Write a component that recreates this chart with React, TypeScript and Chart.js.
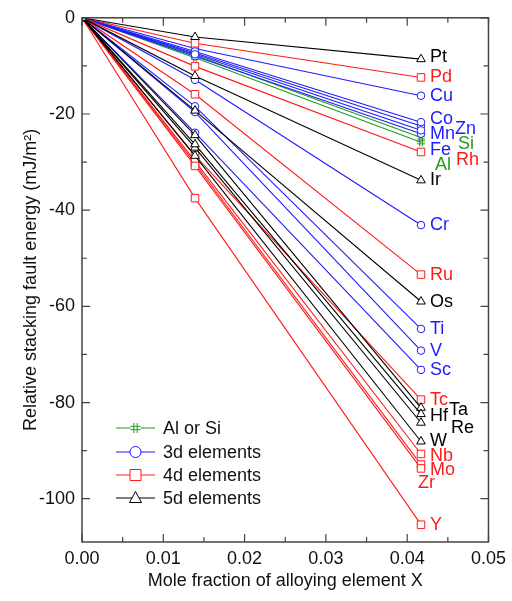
import React, { useEffect, useRef } from 'react';
import { Chart, registerables } from 'chart.js';
Chart.register(...registerables);

// ---- data ----
const xFractions = [0, 0.0139, 0.0417];
const originEnergy = 0;

const spNames = ['Al', 'Si'];
const spMid = [-8.3, -7.8];
const spEnd = [-25.9, -24.9];

const d3Names = ['Sc', 'Ti', 'V', 'Cr', 'Mn', 'Fe', 'Co', 'Cu', 'Zn'];
const d3Mid = [-23.9, -18.4, -19.6, -12.9, -7.6, -8.0, -7.0, -6.4, -7.3];
const d3End = [-73.2, -64.7, -69.2, -43.1, -23.4, -24.1, -21.7, -16.2, -22.5];

const d4Names = ['Y', 'Zr', 'Nb', 'Mo', 'Tc', 'Ru', 'Rh', 'Pd'];
const d4Mid = [-37.5, -30.8, -29.8, -30.3, -28.6, -15.9, -10.1, -5.3];
const d4End = [-105.4, -93.7, -90.7, -92.9, -79.4, -53.4, -27.9, -12.4];

const d5Names = ['Hf', 'Ta', 'W', 'Re', 'Os', 'Ir', 'Pt'];
const d5Mid = [-26.3, -24.4, -28.7, -27.0, -19.3, -12.1, -4.0];
const d5End = [-82.4, -81.1, -88.1, -84.2, -59.0, -33.8, -8.6];

const xTicks = [0, 0.01, 0.02, 0.03, 0.04, 0.05];
const xMinor = [0.005, 0.015, 0.025, 0.035, 0.045];
const yTicks = [-100, -80, -60, -40, -20, 0];
const yMinor = [-90, -70, -50, -30, -10];

const legendLabels = ['Al or Si', '3d elements', '4d elements', '5d elements'];

// ---- styles ----
const FONT = "'Liberation Sans', Arial, Helvetica, sans-serif";
const C_SP = '#1f9a1f';
const C_D3 = '#1c1cff';
const C_D4 = '#ff1a1a';
const C_D5 = '#000000';

// label offsets (px) relative to end marker: [dx, dy]
const labelShift: Record<string, [number, number]> = {
  Zn: [34, 3], Si: [37, 6], Rh: [35, 8], Al: [14, 23], Fe: [9, 16], Co: [9, -3], Mn: [9, 4],
  Ta: [28, 2], Hf: [9, 2], Re: [30, 5], Mo: [9, 5], Zr: [-3, 15], Nb: [9, 2], Pt: [9, -2],
};

function drawHash(ctx: CanvasRenderingContext2D, cx: number, cy: number, s: number, color: string) {
  ctx.save();
  ctx.strokeStyle = color;
  ctx.lineWidth = 1;
  const a = s / 2, g = s / 6;
  ctx.beginPath();
  ctx.moveTo(cx - g, cy - a); ctx.lineTo(cx - g, cy + a);
  ctx.moveTo(cx + g, cy - a); ctx.lineTo(cx + g, cy + a);
  ctx.moveTo(cx - a, cy - g); ctx.lineTo(cx + a, cy - g);
  ctx.moveTo(cx - a, cy + g); ctx.lineTo(cx + a, cy + g);
  ctx.stroke();
  ctx.restore();
}

function hashCanvas(color: string, size: number) {
  const c = document.createElement('canvas');
  c.width = size; c.height = size;
  const ctx = c.getContext('2d')!;
  drawHash(ctx, size / 2, size / 2, size - 2, color);
  return c;
}

function makeSeries(names: string[], mid: number[], end: number[], color: string, style: any, radius: number) {
  return names.map((n, i) => ({
    label: n,
    data: [
      { x: xFractions[0], y: originEnergy },
      { x: xFractions[1], y: mid[i] },
      { x: xFractions[2], y: end[i] },
    ],
    borderColor: color,
    borderWidth: 1.1,
    pointStyle: style,
    pointRadius: radius,
    pointBackgroundColor: '#ffffff',
    pointBorderColor: color,
    pointBorderWidth: 1,
    tension: 0,
    fill: false,
    labelColor: color,
  }));
}

const framePlugin = {
  id: 'frameTicks',
  afterDatasetsDraw(chart: any) {
    const { ctx, chartArea: a, scales } = chart;
    const xs = scales.x, ys = scales.y;
    ctx.save();
    ctx.strokeStyle = '#444';
    ctx.lineWidth = 1.5;
    ctx.strokeRect(a.left, a.top, a.right - a.left, a.bottom - a.top);
    ctx.lineWidth = 1.2;
    ctx.beginPath();
    const tick = (vals: number[], len: number) => {
      vals.forEach((v) => {
        const px = xs.getPixelForValue(v);
        ctx.moveTo(px, a.bottom); ctx.lineTo(px, a.bottom - len);
        ctx.moveTo(px, a.top); ctx.lineTo(px, a.top + len);
      });
    };
    const ytick = (vals: number[], len: number) => {
      vals.forEach((v) => {
        const py = ys.getPixelForValue(v);
        ctx.moveTo(a.left, py); ctx.lineTo(a.left + len, py);
        ctx.moveTo(a.right, py); ctx.lineTo(a.right - len, py);
      });
    };
    tick(xTicks, 8); tick(xMinor, 5);
    ytick(yTicks, 8); ytick(yMinor, 5);
    ctx.stroke();
    ctx.restore();
  },
};

const labelPlugin = {
  id: 'endLabels',
  afterDatasetsDraw(chart: any) {
    const { ctx } = chart;
    ctx.save();
    ctx.font = `18px ${FONT}`;
    ctx.textAlign = 'left';
    ctx.textBaseline = 'middle';
    chart.data.datasets.forEach((ds: any, i: number) => {
      const meta = chart.getDatasetMeta(i);
      const pt = meta.data[meta.data.length - 1];
      const sh = labelShift[ds.label] || [9, 0];
      ctx.fillStyle = ds.labelColor;
      ctx.fillText(ds.label, pt.x + sh[0], pt.y + sh[1]);
    });
    ctx.restore();
  },
};

const legendPlugin = {
  id: 'customLegend',
  afterDraw(chart: any) {
    const { ctx } = chart;
    const rows = [
      { c: C_SP, s: 'hash' }, { c: C_D3, s: 'circle' }, { c: C_D4, s: 'rect' }, { c: C_D5, s: 'tri' },
    ];
    const ys = [428, 452, 475, 498];
    const x0 = 116, x1 = 155, xm = 135.5, xt = 163;
    ctx.save();
    ctx.font = `18px ${FONT}`;
    ctx.textBaseline = 'middle';
    rows.forEach((r, i) => {
      const y = ys[i];
      ctx.strokeStyle = r.c;
      ctx.lineWidth = 1;
      ctx.beginPath(); ctx.moveTo(x0, y); ctx.lineTo(x1, y); ctx.stroke();
      ctx.fillStyle = '#fff';
      ctx.beginPath();
      if (r.s === 'circle') { ctx.arc(xm, y, 5.5, 0, Math.PI * 2); ctx.fill(); ctx.stroke(); }
      else if (r.s === 'rect') { ctx.rect(xm - 5.5, y - 5.5, 11, 11); ctx.fill(); ctx.stroke(); }
      else if (r.s === 'tri') {
        ctx.moveTo(xm, y - 6.5); ctx.lineTo(xm + 6, y + 4.5); ctx.lineTo(xm - 6, y + 4.5); ctx.closePath();
        ctx.fill(); ctx.stroke();
      } else { ctx.fillRect(xm - 5, y - 5, 10, 10); drawHash(ctx, xm, y, 10, r.c); }
      ctx.fillStyle = '#111';
      ctx.fillText(legendLabels[i], xt, y + 1);
    });
    ctx.restore();
  },
};

export default function App() {
  const ref = useRef<HTMLCanvasElement>(null);
  useEffect(() => {
    const canvas = ref.current!;
    Chart.defaults.font.family = FONT;
    const datasets = [
      ...makeSeries(d5Names, d5Mid, d5End, C_D5, 'triangle', 5),
      ...makeSeries(d4Names, d4Mid, d4End, C_D4, 'rect', 5.3),
      ...makeSeries(d3Names, d3Mid, d3End, C_D3, 'circle', 3.8),
      ...makeSeries(spNames, spMid, spEnd, C_SP, hashCanvas(C_SP, 10), 4),
    ];
    const chart = new Chart(canvas, {
      type: 'line',
      data: { datasets: datasets as any },
      options: {
        responsive: false,
        animation: false,
        layout: { padding: { left: 0, top: 12, right: 19, bottom: 0 } },
        plugins: { legend: { display: false }, tooltip: { enabled: false } },
        scales: {
          x: {
            type: 'linear', min: 0, max: 0.05,
            grid: { display: false, drawTicks: false, tickLength: 0 }, border: { display: false },
            afterBuildTicks: (s: any) => { s.ticks = xTicks.map((v) => ({ value: v })); },
            afterFit: (s: any) => { s.height = 59; },
            ticks: { color: '#111', font: { size: 18, family: FONT }, padding: 6, maxRotation: 0, autoSkip: false, callback: (v: any) => Number(v).toFixed(2) },
            title: { display: true, text: 'Mole fraction of alloying element X', color: '#111', font: { size: 18, family: FONT }, padding: { top: 0, bottom: 9 } },
          },
          y: {
            type: 'linear', min: -109, max: 0,
            grid: { display: false, drawTicks: false, tickLength: 0 }, border: { display: false },
            afterBuildTicks: (s: any) => { s.ticks = yTicks.map((v) => ({ value: v })); },
            afterFit: (s: any) => { s.width = 82; },
            ticks: { color: '#111', font: { size: 18, family: FONT }, padding: 7, autoSkip: false, callback: (v: any) => String(v) },
            title: { display: true, text: 'Relative stacking fault energy (mJ/m²)', color: '#111', font: { size: 18, family: FONT }, padding: { top: 20, bottom: 0 } },
          },
        },
      },
      plugins: [framePlugin, labelPlugin, legendPlugin],
    });
    return () => chart.destroy();
  }, []);
  return (
    <div style={{ position: 'absolute', left: 0, top: 0, width: 512, height: 601, background: '#fff' }}>
      <canvas ref={ref} width={512} height={601} style={{ display: 'block', width: 512, height: 601 }} />
    </div>
  );
}
